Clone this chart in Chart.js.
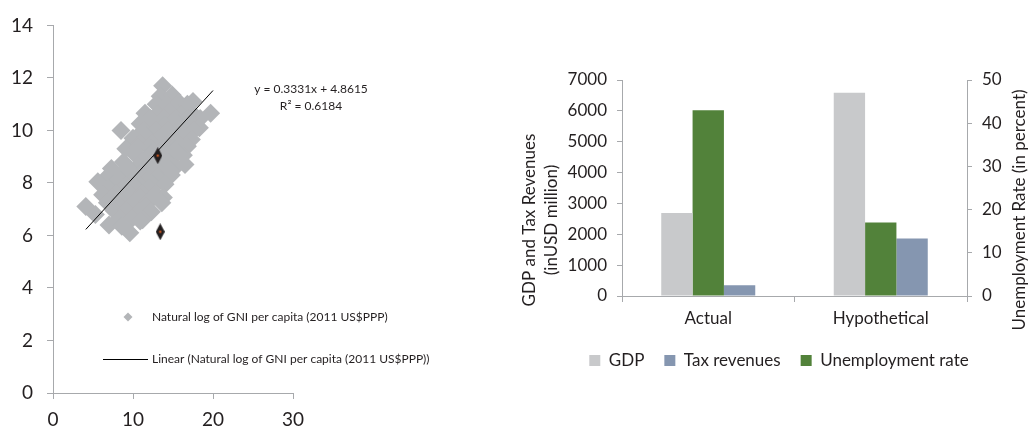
<!DOCTYPE html>
<html>
<head>
<meta charset="utf-8">
<title>GNI per capita and fiscal comparison</title>
<script src="https://cdn.jsdelivr.net/npm/chart.js@4.4.1/dist/chart.umd.min.js"></script>
<style>
    html, body { margin: 0; padding: 0; background: #fff; overflow: hidden; }
    .wrap { position: relative; width: 1028px; height: 433px; }
    #scatter_chart { position: absolute; left: 0; top: 0; }
    #bar_chart { position: absolute; left: 510px; top: 0; }
</style>
</head>
<body>
<div class="wrap">
    <canvas id="scatter_chart" width="500" height="433"></canvas>
    <canvas id="bar_chart" width="538" height="433"></canvas>
</div>
<script>
// ---- left chart data ----
const scatter_x = [
    13.7,
    13.4, 14.9,
    13.6, 15.2, 16.5,
    12.9, 14.3, 15.8, 16.8, 17.5,
    11.5, 13.0, 14.6, 16.0, 17.6, 18.4, 19.7,
    12.2, 13.8, 15.3, 16.8,
    10.9, 12.5, 14.0, 15.6, 17.2, 18.3,
    8.5, 11.3, 12.9, 14.4, 16.0, 17.6,
    10.0, 11.6, 13.2, 14.8, 16.3, 17.3,
    10.8, 12.4, 14.0, 15.6,
    9.1, 10.6, 12.2, 13.8, 15.4, 16.8,
    10.2, 11.6, 13.2, 14.6, 16.3,
    12.4, 14.0, 15.6,
    7.3, 8.8, 10.6, 12.2, 13.8, 15.3, 16.5,
    9.6, 11.4, 13.0, 14.6,
    7.0, 8.5, 10.0, 11.6, 13.2, 14.8,
    8.4, 10.0, 11.7, 13.4,
    5.6, 7.6, 9.2, 10.8, 12.4, 14.0,
    6.9, 8.7, 10.4, 12.0,
    6.2, 7.9, 9.6, 11.2, 12.8, 13.8,
    7.4, 9.0, 10.8, 12.5,
    6.8, 8.5, 10.2, 11.8, 13.6,
    8.4, 10.0, 11.6,
    4.1, 7.6, 9.2, 10.8, 12.3,
    5.3, 8.3, 9.9, 11.2,
    7.0, 8.6, 10.9,
    9.6,
];
const scatter_y = [
    11.7,
    11.3, 11.35,
    10.85, 10.85, 10.85,
    11.0, 11.0, 11.05, 11.0, 11.1,
    10.65, 10.6, 10.7, 10.6, 10.6, 10.45, 10.65,
    10.45, 10.45, 10.45, 10.45,
    10.25, 10.3, 10.2, 10.25, 10.3, 10.1,
    10.0, 10.0, 10.0, 10.0, 10.0, 10.0,
    9.7, 9.8, 9.7, 9.75, 9.8, 9.65,
    9.5, 9.5, 9.5, 9.5,
    9.3, 9.35, 9.3, 9.35, 9.3, 9.4,
    9.1, 8.95, 9.0, 8.95, 9.05,
    9.15, 9.15, 9.15,
    8.55, 8.8, 8.65, 8.7, 8.65, 8.6, 8.7,
    8.5, 8.5, 8.5, 8.5,
    8.3, 8.3, 8.3, 8.3, 8.25, 8.3,
    8.1, 8.1, 8.1, 8.1,
    8.05, 7.95, 7.9, 7.95, 7.95, 7.95,
    7.8, 7.8, 7.8, 7.8,
    7.55, 7.6, 7.6, 7.6, 7.6, 7.45,
    7.45, 7.45, 7.45, 7.45,
    7.25, 7.25, 7.3, 7.25, 7.25,
    7.1, 7.1, 7.1,
    7.1, 6.95, 6.95, 6.9, 6.9,
    6.8, 6.65, 6.65, 6.6,
    6.4, 6.35, 6.55,
    6.1,
];
const highlight_x = [13.1, 13.4];
const highlight_y = [9.04, 6.14];
const trend_x = [4.1, 20.0];
const trend_y = [6.23, 11.52];
const scatter_x_ticks = [0, 10, 20, 30];
const scatter_y_ticks = [0, 2, 4, 6, 8, 10, 12, 14];
const equation_lines = ["y = 0.3331x + 4.8615", "R² = 0.6184"];
const scatter_legend = [
    "Natural log of GNI per capita (2011 US$PPP)",
    "Linear (Natural log of GNI per capita (2011 US$PPP))",
];

// ---- right chart data ----
const bar_labels = ["Actual", "Hypothetical"];
const gdp_values = [2690, 6590];
const tax_values = [350, 1860];
const unemployment_values = [43, 17];
const left_axis_title = ["GDP and Tax Revenues", "(inUSD million)"];
const right_axis_title = "Unemployment Rate (in percent)";

const TEXT_COLOR = "#231f20";
const AXIS_COLOR = "#a7a9ac";
const GRAY_POINT = "#b3b5b8";
const FONT = "Lato, 'Noto Sans', sans-serif";

Chart.defaults.responsive = false;
Chart.defaults.animation = false;
Chart.defaults.font.family = FONT;
Chart.defaults.color = TEXT_COLOR;
Chart.defaults.plugins.tooltip.enabled = false;

const toPoints = (xs, ys) => xs.map((x, i) => ({ x: x, y: ys[i] }));

// tall black diamond with a small orange centre
const makeTallDiamond = () => {
    const c = document.createElement("canvas");
    c.width = 9;
    c.height = 17;
    const g = c.getContext("2d");
    g.fillStyle = "#231f20";
    g.beginPath();
    g.moveTo(4.5, 0);
    g.lineTo(9, 8.5);
    g.lineTo(4.5, 17);
    g.lineTo(0, 8.5);
    g.closePath();
    g.fill();
    g.fillStyle = "#f26522";
    g.fillRect(3.5, 7.5, 2, 2);
    return c;
};

const scatterNotes = {
    id: "scatterNotes",
    afterDraw(chart) {
        const ctx = chart.ctx;
        ctx.save();
        ctx.fillStyle = TEXT_COLOR;
        ctx.font = `12px ${FONT}`;
        ctx.textBaseline = "middle";
        ctx.textAlign = "center";
        ctx.fillText(equation_lines[0], 311, 89);
        ctx.fillText(equation_lines[1], 311, 106);

        // legend: marker entry
        ctx.fillStyle = GRAY_POINT;
        ctx.beginPath();
        ctx.moveTo(128, 312.5);
        ctx.lineTo(132.5, 317);
        ctx.lineTo(128, 321.5);
        ctx.lineTo(123.5, 317);
        ctx.closePath();
        ctx.fill();
        // legend: line entry
        ctx.strokeStyle = "#000";
        ctx.lineWidth = 1;
        ctx.beginPath();
        ctx.moveTo(103, 359.5);
        ctx.lineTo(148, 359.5);
        ctx.stroke();

        ctx.fillStyle = TEXT_COLOR;
        ctx.textAlign = "left";
        ctx.fillText(scatter_legend[0], 152, 317);
        ctx.fillText(scatter_legend[1], 152, 359);
        ctx.restore();
    },
};

new Chart(document.querySelector("#scatter_chart"), {
    type: "scatter",
    data: {
        datasets: [
            {
                label: "highlight",
                data: toPoints(highlight_x, highlight_y),
                pointStyle: makeTallDiamond(),
                order: 0,
            },
            {
                label: scatter_legend[1],
                data: toPoints(trend_x, trend_y),
                showLine: true,
                borderColor: "#000",
                borderWidth: 1,
                pointRadius: 0,
                order: 1,
            },
            {
                label: scatter_legend[0],
                data: toPoints(scatter_x, scatter_y),
                pointStyle: "rectRot",
                pointRadius: 9.5,
                backgroundColor: GRAY_POINT,
                borderWidth: 0,
                order: 2,
            },
        ],
    },
    options: {
        events: [],
        layout: { padding: { top: 23, right: 207, bottom: 0, left: 0 } },
        plugins: { legend: { display: false } },
        scales: {
            x: {
                type: "linear",
                min: 0,
                max: 30,
                afterBuildTicks: (scale) => { scale.ticks = scatter_x_ticks.map((v) => ({ value: v })); },
                ticks: { color: TEXT_COLOR, font: { size: 19 }, padding: 9 },
                grid: { drawOnChartArea: false, tickLength: 6, color: AXIS_COLOR },
                border: { color: AXIS_COLOR },
                afterFit: (scale) => { scale.height = 40; },
            },
            y: {
                min: 0,
                max: 14,
                afterBuildTicks: (scale) => { scale.ticks = scatter_y_ticks.map((v) => ({ value: v })); },
                ticks: { color: TEXT_COLOR, font: { size: 19 }, padding: 14 },
                grid: { drawOnChartArea: false, tickLength: 6, color: AXIS_COLOR },
                border: { color: AXIS_COLOR },
                afterFit: (scale) => { scale.width = 53; },
            },
        },
    },
    plugins: [scatterNotes],
});

// legend order differs from bar order
const legend_rank = { 0: 0, 1: 2, 2: 1 };

const barAxisTitles = {
    id: "barAxisTitles",
    afterDraw(chart) {
        const ctx = chart.ctx;
        ctx.save();
        ctx.fillStyle = TEXT_COLOR;
        ctx.font = `17px ${FONT}`;
        ctx.textAlign = "center";
        ctx.textBaseline = "middle";
        ctx.translate(20, 220);
        ctx.rotate(-Math.PI / 2);
        ctx.fillText(left_axis_title[0], 0, 0);
        ctx.fillText(left_axis_title[1], 0, 22);
        ctx.restore();

        ctx.save();
        ctx.fillStyle = TEXT_COLOR;
        ctx.font = `17px ${FONT}`;
        ctx.textAlign = "center";
        ctx.textBaseline = "middle";
        ctx.translate(510, 210);
        ctx.rotate(-Math.PI / 2);
        ctx.fillText(right_axis_title, 0, 0);
        ctx.restore();
    },
};

const plainNumber = (value) => String(value);

new Chart(document.querySelector("#bar_chart"), {
    type: "bar",
    data: {
        labels: bar_labels,
        datasets: [
            {
                label: "GDP",
                data: gdp_values,
                backgroundColor: "#c8c9cb",
                yAxisID: "y",
            },
            {
                label: "Unemployment rate",
                data: unemployment_values,
                backgroundColor: "#52823a",
                yAxisID: "y1",
            },
            {
                label: "Tax revenues",
                data: tax_values,
                backgroundColor: "#8596b0",
                yAxisID: "y",
            },
        ],
    },
    options: {
        events: [],
        categoryPercentage: 0.545,
        barPercentage: 1.0,
        layout: { padding: { top: 80, right: 0, bottom: 54, left: 0 } },
        plugins: {
            legend: {
                position: "bottom",
                labels: {
                    boxWidth: 11,
                    boxHeight: 11,
                    padding: 20,
                    color: TEXT_COLOR,
                    font: { size: 17 },
                    sort: (a, b) => legend_rank[a.datasetIndex] - legend_rank[b.datasetIndex],
                },
            },
        },
        scales: {
            x: {
                ticks: { color: TEXT_COLOR, font: { size: 17 }, padding: 6 },
                grid: { drawOnChartArea: false, tickLength: 6, color: AXIS_COLOR },
                border: { color: AXIS_COLOR },
                afterFit: (scale) => { scale.height = 36; },
            },
            y: {
                position: "left",
                min: 0,
                max: 7000,
                ticks: { stepSize: 1000, color: TEXT_COLOR, font: { size: 17 }, padding: 10, callback: plainNumber },
                grid: { drawOnChartArea: false, tickLength: 5, color: AXIS_COLOR },
                border: { color: AXIS_COLOR },
                afterFit: (scale) => { scale.width = 112; },
            },
            y1: {
                position: "right",
                min: 0,
                max: 50,
                ticks: { stepSize: 10, color: TEXT_COLOR, font: { size: 17 }, padding: 10, callback: plainNumber },
                grid: { drawOnChartArea: false, tickLength: 5, color: AXIS_COLOR },
                border: { color: AXIS_COLOR },
                afterFit: (scale) => { scale.width = 81; },
            },
        },
    },
    plugins: [barAxisTitles],
});
</script>
</body>
</html>
